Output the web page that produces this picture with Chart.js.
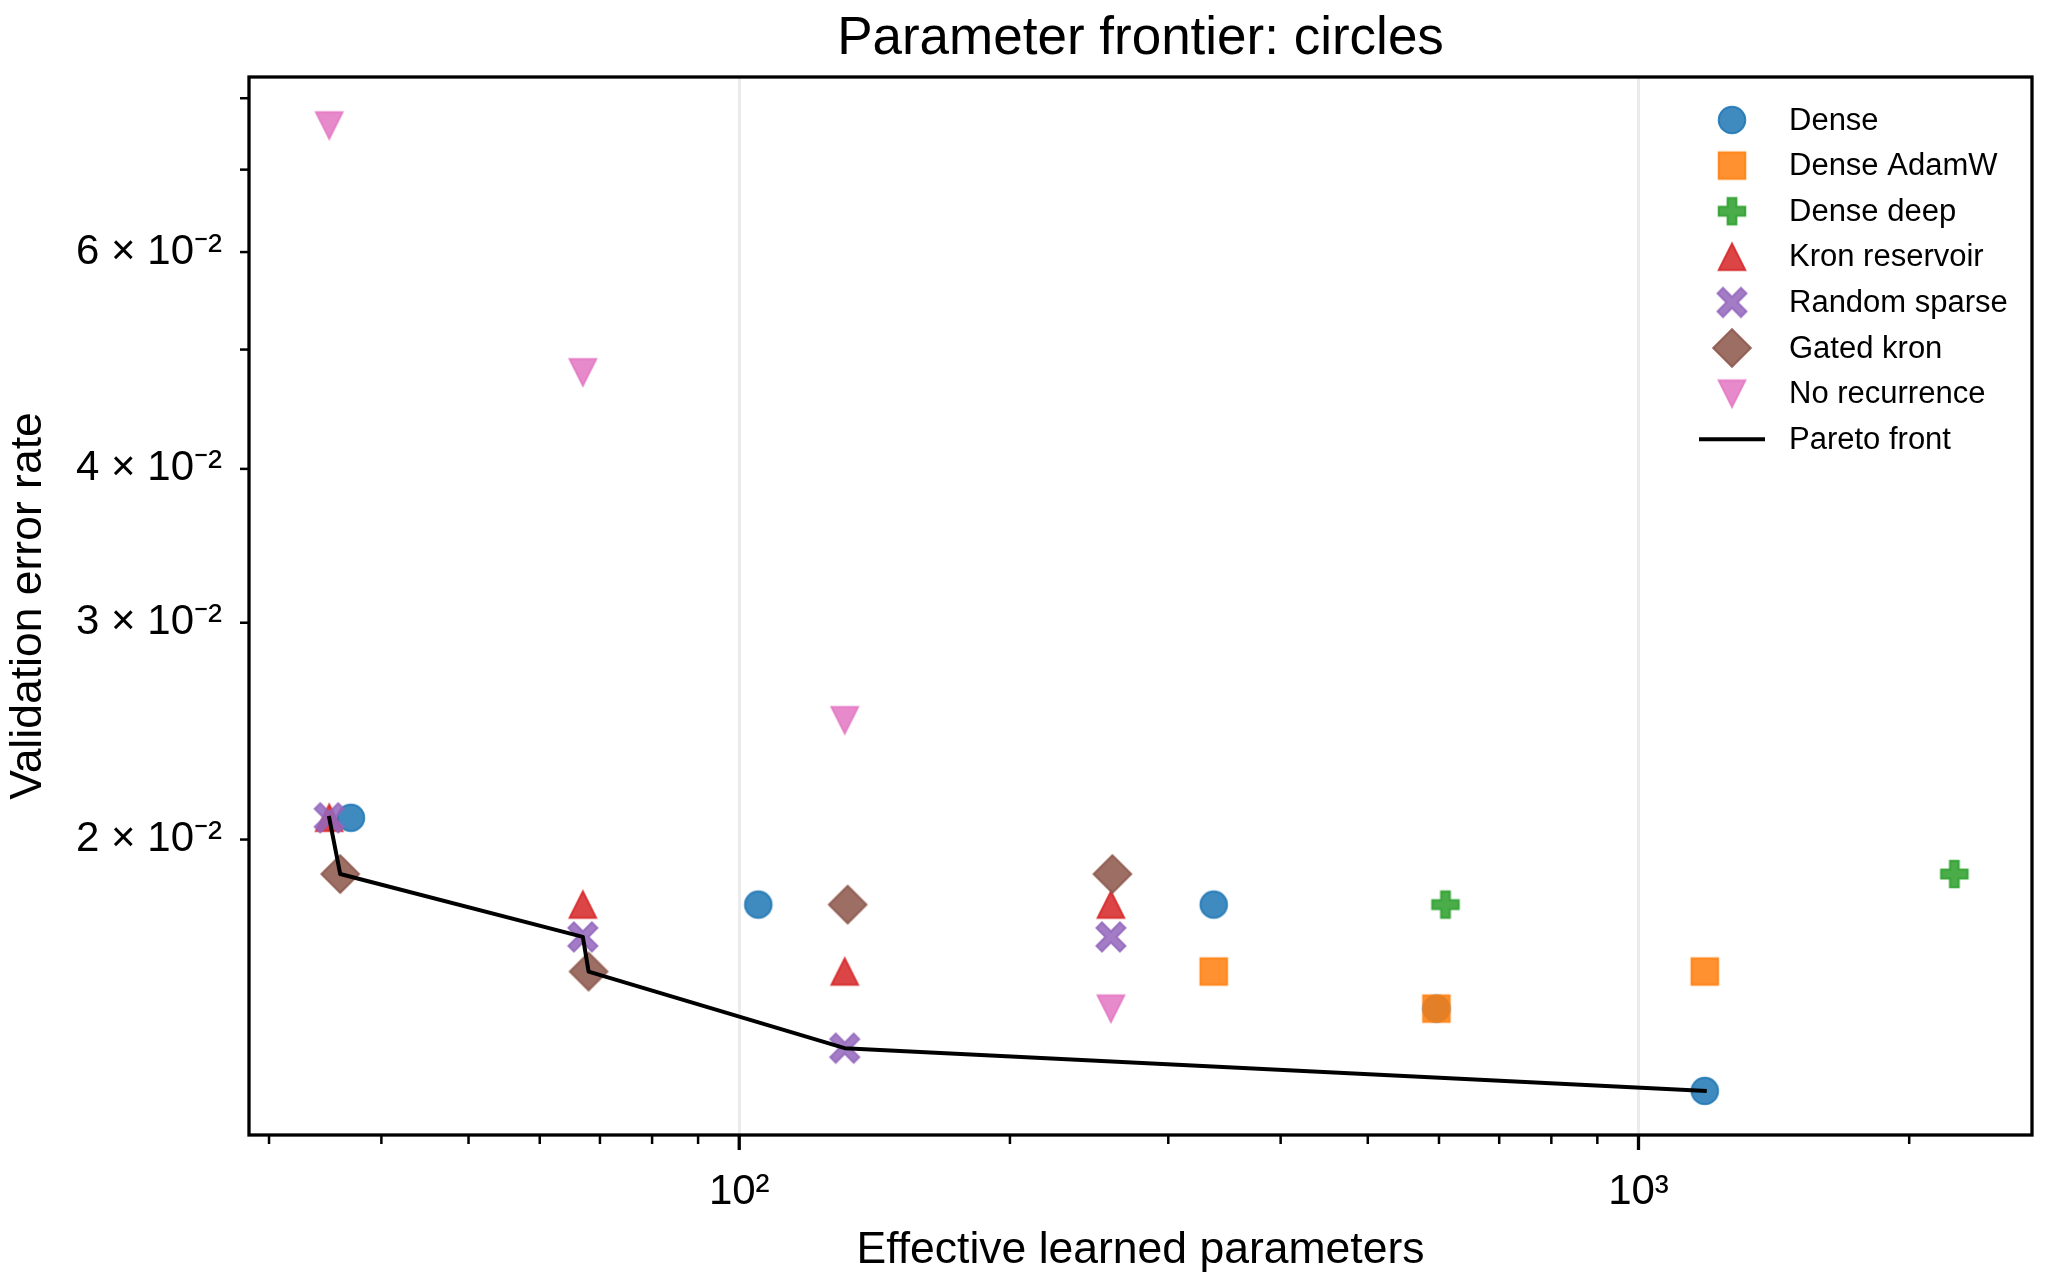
<!DOCTYPE html>
<html><head><meta charset="utf-8">
<script src="https://cdn.jsdelivr.net/npm/chart.js@4/dist/chart.umd.min.js"></script>
<style>html,body{margin:0;padding:0;background:#fff}canvas{display:block}</style>
</head><body>
<canvas id="c" width="2047" height="1284"></canvas>
<script>
// ---- data ----
const seriesNames = ['Dense', 'Dense AdamW', 'Dense deep', 'Kron reservoir', 'Random sparse', 'Gated kron', 'No recurrence', 'Pareto front'];
const denseX  = [37, 105, 337, 596, 1185];
const denseY  = [0.02083, 0.01771, 0.01771, 0.01458, 0.0125];
const adamwX  = [337, 596, 1185];
const adamwY  = [0.015625, 0.01458, 0.015625];
const deepX   = [610, 2245];
const deepY   = [0.01771, 0.01875];
const kronX   = [35, 67, 131, 259];
const kronY   = [0.02083, 0.01771, 0.015625, 0.01771];
const sparseX = [35, 67, 131, 259];
const sparseY = [0.02083, 0.01667, 0.01354, 0.01667];
const gatedX  = [36, 68, 132, 260];
const gatedY  = [0.01875, 0.015625, 0.01771, 0.01875];
const norecX  = [35, 67, 131, 259];
const norecY  = [0.07604, 0.04792, 0.025, 0.01458];
const paretoX = [35, 36, 67, 68, 131, 1185];
const paretoY = [0.02083, 0.01875, 0.01667, 0.015625, 0.01354, 0.0125];
const xTicks = [30, 40, 50, 60, 70, 80, 90, 100, 200, 300, 400, 500, 600, 700, 800, 900, 1000, 2000];
const xTickLabels = ['', '', '', '', '', '', '', '10²', '', '', '', '', '', '', '', '', '10³', ''];
const xMajor = [100, 1000];
const yTicks = [0.02, 0.03, 0.04, 0.05, 0.06, 0.07, 0.08];
const yTickLabels = ['2 × 10⁻²', '3 × 10⁻²', '4 × 10⁻²', '', '6 × 10⁻²', '', ''];
const xRange = [28.5, 2739];
const yRange = [0.01151, 0.08324];
const titleText = 'Parameter frontier: circles';
const xTitle = 'Effective learned parameters';
const yTitle = 'Validation error rate';

// ---- styling ----
const FONT = "'Liberation Sans', Arial, Helvetica, sans-serif";
const ALPHA = 0.86;
const colors = {
  blue: '31,119,180', orange: '255,127,14', green: '44,160,44', red: '214,39,40',
  purple: '148,103,189', brown: '140,86,75', pink: '227,119,194'
};
function polyPath(g, pts, s, rot) {
  const c = Math.cos(rot || 0), sn = Math.sin(rot || 0);
  const tp = p => [(p[0] * c - p[1] * sn) * s, (p[0] * sn + p[1] * c) * s];
  const p0 = tp(pts[0]);
  g.moveTo(p0[0], p0[1]);
  for (let i = 1; i < pts.length; i++) { const p = tp(pts[i]); g.lineTo(p[0], p[1]); }
  g.closePath();
}
const H = 13.3;
const XA = 3.9, XL = 16.6;
const shapes = {
  circle: g => g.arc(0, 0, H, 0, Math.PI * 2),
  square: g => g.rect(-H, -H, 2 * H, 2 * H),
  plus: g => polyPath(g, [[-1,-3],[1,-3],[1,-1],[3,-1],[3,1],[1,1],[1,3],[-1,3],[-1,1],[-3,1],[-3,-1],[-1,-1]], H / 3),
  xfill: g => polyPath(g, [[-XA,-XL],[XA,-XL],[XA,-XA],[XL,-XA],[XL,XA],[XA,XA],[XA,XL],[-XA,XL],[-XA,XA],[-XL,XA],[-XL,-XA],[-XA,-XA]], 1, Math.PI / 4),
  triUp: g => polyPath(g, [[0,-1],[1,1],[-1,1]], H),
  triDown: g => polyPath(g, [[0,1],[1,-1],[-1,-1]], H),
  diamond: g => polyPath(g, [[0,-1],[1,0],[0,1],[-1,0]], 18.8)
};
function makeMarker(shape, rgb) {
  const c = document.createElement('canvas');
  c.width = 50; c.height = 50;
  const g = c.getContext('2d');
  g.translate(25, 25);
  g.beginPath();
  shapes[shape](g);
  g.fillStyle = 'rgba(' + rgb + ',' + ALPHA + ')';
  g.fill();
  g.lineWidth = 2;
  g.lineJoin = 'miter';
  g.strokeStyle = 'rgba(' + rgb + ',' + ALPHA + ')';
  g.stroke();
  return c;
}
const markers = [
  makeMarker('circle', colors.blue),
  makeMarker('square', colors.orange),
  makeMarker('plus', colors.green),
  makeMarker('triUp', colors.red),
  makeMarker('xfill', colors.purple),
  makeMarker('diamond', colors.brown),
  makeMarker('triDown', colors.pink)
];
const pts = (xs, ys) => xs.map((x, i) => ({x: x, y: ys[i]}));
const seriesData = [
  pts(denseX, denseY), pts(adamwX, adamwY), pts(deepX, deepY), pts(kronX, kronY),
  pts(sparseX, sparseY), pts(gatedX, gatedY), pts(norecX, norecY)
];

const datasets = seriesData.map((d, i) => ({
  label: seriesNames[i],
  data: d,
  pointStyle: markers[i],
  pointRadius: 14,
  pointHoverRadius: 14,
  order: 8 - i
}));
datasets.push({
  label: seriesNames[7],
  data: pts(paretoX, paretoY),
  showLine: true,
  pointRadius: 0,
  pointHoverRadius: 0,
  borderColor: '#000',
  borderWidth: 4,
  borderJoinStyle: 'round',
  borderCapStyle: 'square',
  tension: 0,
  fill: false,
  order: 0
});

const decorPlugin = {
  id: 'decor',
  afterDraw(chart) {
    const ctx = chart.ctx, ca = chart.chartArea;
    const xs = chart.scales.x, ys = chart.scales.y;
    ctx.save();
    ctx.strokeStyle = '#000';
    ctx.lineCap = 'butt';
    xTicks.forEach(v => {
      const px = xs.getPixelForValue(v);
      const major = xMajor.includes(v);
      ctx.lineWidth = major ? 3.3 : 2.5;
      ctx.beginPath();
      ctx.moveTo(px, ca.bottom);
      ctx.lineTo(px, ca.bottom + (major ? 15 : 9));
      ctx.stroke();
    });
    yTicks.forEach(v => {
      const py = ys.getPixelForValue(v);
      ctx.lineWidth = 2.5;
      ctx.beginPath();
      ctx.moveTo(ca.left - 9, py);
      ctx.lineTo(ca.left, py);
      ctx.stroke();
    });
    ctx.lineWidth = 3.3;
    ctx.lineJoin = 'miter';
    ctx.strokeRect(ca.left, ca.top, ca.right - ca.left, ca.bottom - ca.top);

    // title
    ctx.fillStyle = '#000';
    ctx.font = '53px ' + FONT;
    ctx.textAlign = 'center';
    ctx.textBaseline = 'alphabetic';
    ctx.fillText(titleText, (ca.left + ca.right) / 2, 54);

    // legend
    const lx = 1732, tx = 1789, ly0 = 120, dy = 45.6;
    ctx.font = '31px ' + FONT;
    ctx.textAlign = 'left';
    ctx.textBaseline = 'middle';
    seriesNames.forEach((name, i) => {
      const y = ly0 + i * dy;
      if (i < markers.length) {
        const m = markers[i];
        ctx.drawImage(m, lx - m.width / 2, y - m.height / 2);
      } else {
        ctx.lineWidth = 4;
        ctx.lineCap = 'butt';
        ctx.beginPath();
        ctx.moveTo(1699, y);
        ctx.lineTo(1765, y);
        ctx.stroke();
      }
      ctx.fillText(name, tx, y + 1);
    });
    ctx.restore();
  }
};

Chart.defaults.font.family = FONT;
Chart.defaults.color = '#000';

new Chart(document.getElementById('c'), {
  type: 'scatter',
  data: {datasets: datasets},
  options: {
    responsive: false,
    animation: false,
    events: [],
    layout: {padding: {top: 77, right: 15, bottom: 0, left: 0}},
    plugins: {legend: {display: false}, title: {display: false}, tooltip: {enabled: false}},
    scales: {
      x: {
        type: 'logarithmic',
        min: xRange[0], max: xRange[1],
        afterFit: s => { s.height = 149; },
        afterBuildTicks: s => { s.ticks = xTicks.map(v => ({value: v})); },
        border: {display: false},
        grid: {
          display: true, drawTicks: false, lineWidth: 3,
          color: c => (c.tick && xMajor.includes(c.tick.value)) ? '#ebebeb' : 'rgba(0,0,0,0)'
        },
        ticks: {
          autoSkip: false, maxRotation: 0, minRotation: 0, padding: 32,
          font: {size: 42}, color: '#000',
          callback: (v, i) => xTickLabels[i]
        },
        title: {display: true, text: xTitle, font: {size: 44.5}, color: '#000', padding: {top: 0, bottom: 7}}
      },
      y: {
        type: 'logarithmic',
        min: yRange[0], max: yRange[1],
        afterFit: s => { s.width = 249; },
        afterBuildTicks: s => { s.ticks = yTicks.map(v => ({value: v})); },
        border: {display: false},
        grid: {display: false},
        ticks: {
          autoSkip: false, padding: 19,
          font: {size: 42}, color: '#000',
          callback: (v, i) => yTickLabels[i]
        },
        title: {display: true, text: yTitle, font: {size: 44.5}, color: '#000', padding: {top: 2.5, bottom: 0}}
      }
    }
  },
  plugins: [decorPlugin]
});
</script>
</body></html>
